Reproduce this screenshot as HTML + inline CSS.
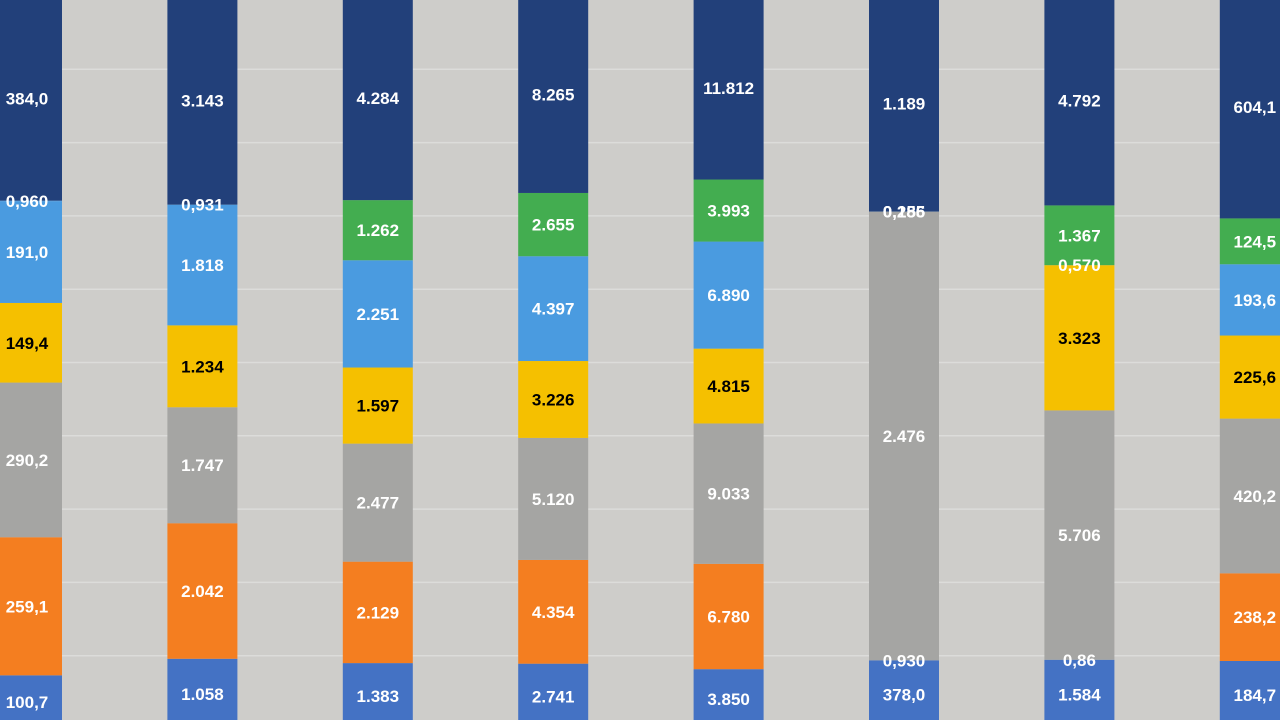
<!DOCTYPE html>
<html><head><meta charset="utf-8"><style>
html,body{margin:0;padding:0;background:#cecdca;width:1280px;height:720px;overflow:hidden}
svg{display:block}
text{font-family:"Liberation Sans",sans-serif;font-weight:bold;font-size:17px}
</style></head><body>
<svg id="chart" width="1280" height="720"></svg>
<script>
const categories = ["c1","c2","c3","c4","c5","c6","c7","c8"];
const seriesNames = ["blue","smallA","orange","gray","yellow","lightblue","smallB","smallC","green","navy"];
const seriesColors = ["#4472c4","#4472c4","#f47e20","#a5a5a3","#f5c000","#4a9be0","#4a9be0","#4a9be0","#43ad50","#22407a"];
const labelColors = ["#fff","#fff","#fff","#fff","#000","#fff","#fff","#fff","#fff","#fff"];
const blue      = [100.7,1058,1383,2741,3850,378.0,1584,184.7];
const smallA    = [0,0,0,0,0,0.930,0.86,0];
const orange    = [259.1,2042,2129,4354,6780,0,0,238.2];
const gray      = [290.2,1747,2477,5120,9033,2476,5706,420.2];
const yellow    = [149.4,1234,1597,3226,4815,0,3323,225.6];
const lightblue = [191.0,1818,2251,4397,6890,0,0,193.6];
const smallB    = [0.960,0.931,0,0,0,0.286,0.570,0];
const smallC    = [0,0,0,0,0,0.155,0,0];
const green     = [0,0,1262,2655,3993,0,1367,124.5];
const navy      = [384.0,3143,4284,8265,11812,1189,4792,604.1];
const labels = [
 ["100,7","1.058","1.383","2.741","3.850","378,0","1.584","184,7"],
 ["","","","","","0,930","0,86",""],
 ["259,1","2.042","2.129","4.354","6.780","","","238,2"],
 ["290,2","1.747","2.477","5.120","9.033","2.476","5.706","420,2"],
 ["149,4","1.234","1.597","3.226","4.815","","3.323","225,6"],
 ["191,0","1.818","2.251","4.397","6.890","","","193,6"],
 ["0,960","0,931","","","","0,286","0,570",""],
 ["","","","","","0,155","",""],
 ["","","1.262","2.655","3.993","","1.367","124,5"],
 ["384,0","3.143","4.284","8.265","11.812","1.189","4.792","604,1"]
];
const series = [blue,smallA,orange,gray,yellow,lightblue,smallB,smallC,green,navy];
const gridTicks = [0,10,20,30,40,50,60,70,80,90,100];

const NS="http://www.w3.org/2000/svg";
const svg=document.getElementById('chart');
const plotBottom=729, plotTop=-4, H=plotBottom-plotTop;
const x0=27, step=175.4, barW=70;
const xCenter=i=>x0+step*i;
const yPct=p=>plotBottom-p/100*H;

gridTicks.forEach(t=>{
  const l=document.createElementNS(NS,'line');
  
  
  l.setAttribute('x1',0);l.setAttribute('x2',1280);
  l.setAttribute('y1',yPct(t));l.setAttribute('y2',yPct(t));
  l.setAttribute('stroke','#dcdcda');l.setAttribute('stroke-width','1.5');
  svg.appendChild(l);
});

categories.forEach((c,i)=>{
  const total=series.reduce((s,a)=>s+a[i],0);
  let cum=0;
  const txt=[];
  series.forEach((a,k)=>{
    const v=a[i];
    const yb=yPct(cum/total*100), yt=yPct((cum+v)/total*100);
    cum+=v;
    if(v>0){
      const r=document.createElementNS(NS,'rect');
      
      
      r.setAttribute('x',xCenter(i)-barW/2);r.setAttribute('width',barW);
      r.setAttribute('y',yt);r.setAttribute('height',Math.max(0,yb-yt));
      r.setAttribute('fill',seriesColors[k]);
      svg.appendChild(r);
    }
    const lab=labels[k][i];
    if(lab){
      const t=document.createElementNS(NS,'text');
      
      
      t.setAttribute('x',xCenter(i));t.setAttribute('y',(yb+yt)/2+6);
      t.setAttribute('text-anchor','middle');t.setAttribute('fill',labelColors[k]);
      t.textContent=lab;
      txt.push(t);
    }
  });
  txt.forEach(t=>svg.appendChild(t));
});
</script>
</body></html>
